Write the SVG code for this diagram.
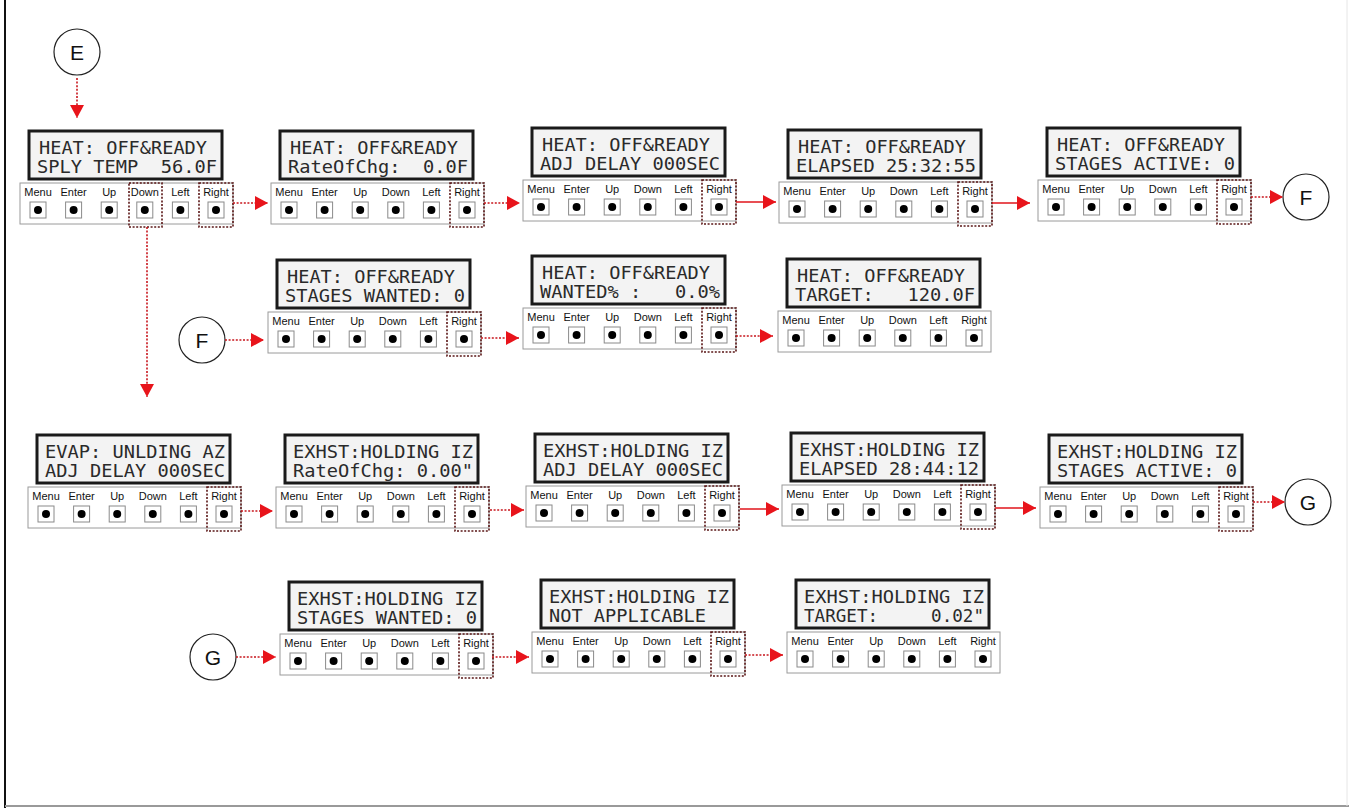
<svg xmlns="http://www.w3.org/2000/svg" width="1349" height="808" viewBox="0 0 1349 808">
<style>
.lcd{fill:#f3f3f3;stroke:#1a1a1a;stroke-width:3}
.lcdt{font-family:"DejaVu Sans Mono","Liberation Mono",monospace;font-size:18px;fill:#2a2a2a;white-space:pre}
.bar{fill:#fff;stroke:#9a9a9a;stroke-width:1}
.btn{fill:#fff;stroke:#8a8a8a;stroke-width:1}
.dot{fill:#000}
.lbl{font-family:"Liberation Sans Narrow","Liberation Sans",Arial,sans-serif;font-size:11px;fill:#111;text-anchor:middle}
.sel{fill:none;stroke:#5a1616;stroke-width:1.6;stroke-dasharray:2 1.6}
.circ{fill:#fff;stroke:#222;stroke-width:1.2}
.ctext{font-family:"Liberation Sans",Arial,sans-serif;font-size:21px;fill:#111;text-anchor:middle}
.dash{fill:none;stroke:#c8161d;stroke-width:1.6;stroke-dasharray:2 1.6}
.solid{fill:none;stroke:#e0141b;stroke-width:1.4}
</style>
<defs>
<marker id="ah" markerUnits="userSpaceOnUse" markerWidth="14" markerHeight="14" viewBox="0 0 14 14" refX="13" refY="7" orient="auto">
<path d="M0,0 L13,7 L0,14 Z" fill="#e8141b"/>
</marker>
<g id="keypad">
<rect class="bar" x="0" y="0" width="213" height="41"/>
<text class="lbl" x="18" y="13">Menu</text>
<text class="lbl" x="53.6" y="13">Enter</text>
<text class="lbl" x="89.2" y="13">Up</text>
<text class="lbl" x="124.8" y="13">Down</text>
<text class="lbl" x="160.4" y="13">Left</text>
<text class="lbl" x="196" y="13">Right</text>
<rect class="btn" x="10" y="19" width="16" height="16"/>
<rect class="btn" x="45.6" y="19" width="16" height="16"/>
<rect class="btn" x="81.2" y="19" width="16" height="16"/>
<rect class="btn" x="116.8" y="19" width="16" height="16"/>
<rect class="btn" x="152.4" y="19" width="16" height="16"/>
<rect class="btn" x="188" y="19" width="16" height="16"/>
<circle class="dot" cx="18" cy="27" r="4"/>
<circle class="dot" cx="53.6" cy="27" r="4"/>
<circle class="dot" cx="89.2" cy="27" r="4"/>
<circle class="dot" cx="124.8" cy="27" r="4"/>
<circle class="dot" cx="160.4" cy="27" r="4"/>
<circle class="dot" cx="196" cy="27" r="4"/>
<rect class="lcd" x="9" y="-52" width="193" height="48"/>
</g>
<rect id="selR" class="sel" x="179" y="0" width="34" height="44"/>
</defs>

<!-- frame -->
<line x1="5" y1="0" x2="5" y2="808" stroke="#111" stroke-width="2"/>
<line x1="5" y1="806" x2="1349" y2="806" stroke="#999" stroke-width="2"/>
<line x1="1347" y1="0" x2="1347" y2="806" stroke="#e6e6e6" stroke-width="1"/>

<g id="circle-E"><circle class="circ" cx="77" cy="52" r="23"/><text class="ctext" x="77" y="60">E</text></g>
<g id="circle-F1"><circle class="circ" cx="1306" cy="197" r="23"/><text class="ctext" x="1306" y="205">F</text></g>
<g id="circle-F2"><circle class="circ" cx="202" cy="340" r="23"/><text class="ctext" x="202" y="348">F</text></g>
<g id="circle-G1"><circle class="circ" cx="1308" cy="502" r="23"/><text class="ctext" x="1308" y="510">G</text></g>
<g id="circle-G2"><circle class="circ" cx="213" cy="657" r="23"/><text class="ctext" x="213" y="665">G</text></g>

<g id="p1" transform="translate(20,183)"><use href="#keypad"/><use href="#selR"/><rect class="sel" x="109" y="0" width="33" height="44"/>
<text class="lcdt" x="19" y="-29" textLength="168" lengthAdjust="spacingAndGlyphs">HEAT: OFF&amp;READY</text>
<text class="lcdt" x="17" y="-10" textLength="180" lengthAdjust="spacingAndGlyphs">SPLY TEMP  56.0F</text></g>

<g id="p2" transform="translate(271,183)"><use href="#keypad"/><use href="#selR"/>
<text class="lcdt" x="19" y="-29" textLength="168" lengthAdjust="spacingAndGlyphs">HEAT: OFF&amp;READY</text>
<text class="lcdt" x="17" y="-10" textLength="180" lengthAdjust="spacingAndGlyphs">RateOfChg:  0.0F</text></g>

<g id="p3" transform="translate(523,180)"><use href="#keypad"/><use href="#selR"/>
<text class="lcdt" x="19" y="-29" textLength="168" lengthAdjust="spacingAndGlyphs">HEAT: OFF&amp;READY</text>
<text class="lcdt" x="17" y="-10" textLength="180" lengthAdjust="spacingAndGlyphs">ADJ DELAY 000SEC</text></g>

<g id="p4" transform="translate(779,182)"><use href="#keypad"/><use href="#selR"/>
<text class="lcdt" x="19" y="-29" textLength="168" lengthAdjust="spacingAndGlyphs">HEAT: OFF&amp;READY</text>
<text class="lcdt" x="17" y="-10" textLength="180" lengthAdjust="spacingAndGlyphs">ELAPSED 25:32:55</text></g>

<g id="p5" transform="translate(1038,180)"><use href="#keypad"/><use href="#selR"/>
<text class="lcdt" x="19" y="-29" textLength="168" lengthAdjust="spacingAndGlyphs">HEAT: OFF&amp;READY</text>
<text class="lcdt" x="17" y="-10" textLength="180" lengthAdjust="spacingAndGlyphs">STAGES ACTIVE: 0</text></g>

<g id="p6" transform="translate(268,312)"><use href="#keypad"/><use href="#selR"/>
<text class="lcdt" x="19" y="-29" textLength="168" lengthAdjust="spacingAndGlyphs">HEAT: OFF&amp;READY</text>
<text class="lcdt" x="17" y="-10" textLength="180" lengthAdjust="spacingAndGlyphs">STAGES WANTED: 0</text></g>

<g id="p7" transform="translate(523,308)"><use href="#keypad"/><use href="#selR"/>
<text class="lcdt" x="19" y="-29" textLength="168" lengthAdjust="spacingAndGlyphs">HEAT: OFF&amp;READY</text>
<text class="lcdt" x="17" y="-10" textLength="180" lengthAdjust="spacingAndGlyphs">WANTED% :   0.0%</text></g>

<g id="p8" transform="translate(778,311)"><use href="#keypad"/>
<text class="lcdt" x="19" y="-29" textLength="168" lengthAdjust="spacingAndGlyphs">HEAT: OFF&amp;READY</text>
<text class="lcdt" x="17" y="-10" textLength="180" lengthAdjust="spacingAndGlyphs">TARGET:   120.0F</text></g>

<g id="p9" transform="translate(28,487)"><use href="#keypad"/><use href="#selR"/>
<text class="lcdt" x="17" y="-29" textLength="180" lengthAdjust="spacingAndGlyphs">EVAP: UNLDING AZ</text>
<text class="lcdt" x="17" y="-10" textLength="180" lengthAdjust="spacingAndGlyphs">ADJ DELAY 000SEC</text></g>

<g id="p10" transform="translate(276,487)"><use href="#keypad"/><use href="#selR"/>
<text class="lcdt" x="17" y="-29" textLength="180" lengthAdjust="spacingAndGlyphs">EXHST:HOLDING IZ</text>
<text class="lcdt" x="17" y="-10" textLength="180" lengthAdjust="spacingAndGlyphs">RateOfChg: 0.00"</text></g>

<g id="p11" transform="translate(526,486)"><use href="#keypad"/><use href="#selR"/>
<text class="lcdt" x="17" y="-29" textLength="180" lengthAdjust="spacingAndGlyphs">EXHST:HOLDING IZ</text>
<text class="lcdt" x="17" y="-10" textLength="180" lengthAdjust="spacingAndGlyphs">ADJ DELAY 000SEC</text></g>

<g id="p12" transform="translate(782,485)"><use href="#keypad"/><use href="#selR"/>
<text class="lcdt" x="17" y="-29" textLength="180" lengthAdjust="spacingAndGlyphs">EXHST:HOLDING IZ</text>
<text class="lcdt" x="17" y="-10" textLength="180" lengthAdjust="spacingAndGlyphs">ELAPSED 28:44:12</text></g>

<g id="p13" transform="translate(1040,487)"><use href="#keypad"/><use href="#selR"/>
<text class="lcdt" x="17" y="-29" textLength="180" lengthAdjust="spacingAndGlyphs">EXHST:HOLDING IZ</text>
<text class="lcdt" x="17" y="-10" textLength="180" lengthAdjust="spacingAndGlyphs">STAGES ACTIVE: 0</text></g>

<g id="p14" transform="translate(280,634)"><use href="#keypad"/><use href="#selR"/>
<text class="lcdt" x="17" y="-29" textLength="180" lengthAdjust="spacingAndGlyphs">EXHST:HOLDING IZ</text>
<text class="lcdt" x="17" y="-10" textLength="180" lengthAdjust="spacingAndGlyphs">STAGES WANTED: 0</text></g>

<g id="p15" transform="translate(532,632)"><use href="#keypad"/><use href="#selR"/>
<text class="lcdt" x="17" y="-29" textLength="180" lengthAdjust="spacingAndGlyphs">EXHST:HOLDING IZ</text>
<text class="lcdt" x="17" y="-10" textLength="157" lengthAdjust="spacingAndGlyphs">NOT APPLICABLE</text></g>

<g id="p16" transform="translate(787,632)"><use href="#keypad"/>
<text class="lcdt" x="17" y="-29" textLength="180" lengthAdjust="spacingAndGlyphs">EXHST:HOLDING IZ</text>
<text class="lcdt" x="17" y="-10" textLength="180" lengthAdjust="spacingAndGlyphs">TARGET:     0.02"</text></g>

<g id="connectors">
<line class="dash" x1="77" y1="78" x2="77" y2="118" marker-end="url(#ah)"/>
<line class="dash" x1="233" y1="203" x2="268" y2="203" marker-end="url(#ah)"/>
<line class="dash" x1="484" y1="203" x2="520" y2="203" marker-end="url(#ah)"/>
<line class="solid" x1="736" y1="202" x2="776" y2="202" marker-end="url(#ah)"/>
<line class="solid" x1="992" y1="203" x2="1030" y2="203" marker-end="url(#ah)"/>
<line class="dash" x1="1251" y1="197" x2="1283" y2="197" marker-end="url(#ah)"/>
<line class="dash" x1="225" y1="340" x2="264" y2="340" marker-end="url(#ah)"/>
<line class="dash" x1="481" y1="338" x2="519" y2="338" marker-end="url(#ah)"/>
<line class="dash" x1="736" y1="336" x2="773" y2="336" marker-end="url(#ah)"/>
<line class="dash" x1="147" y1="227" x2="147" y2="397" marker-end="url(#ah)"/>
<line class="dash" x1="241" y1="511" x2="273" y2="511" marker-end="url(#ah)"/>
<line class="dash" x1="490" y1="510" x2="524" y2="510" marker-end="url(#ah)"/>
<line class="solid" x1="740" y1="509" x2="779" y2="509" marker-end="url(#ah)"/>
<line class="solid" x1="995" y1="508" x2="1036" y2="508" marker-end="url(#ah)"/>
<line class="dash" x1="1253" y1="502" x2="1285" y2="502" marker-end="url(#ah)"/>
<line class="dash" x1="236" y1="657" x2="276" y2="657" marker-end="url(#ah)"/>
<line class="dash" x1="492" y1="657" x2="529" y2="657" marker-end="url(#ah)"/>
<line class="dash" x1="745" y1="655" x2="783" y2="655" marker-end="url(#ah)"/>
</g>
</svg>
